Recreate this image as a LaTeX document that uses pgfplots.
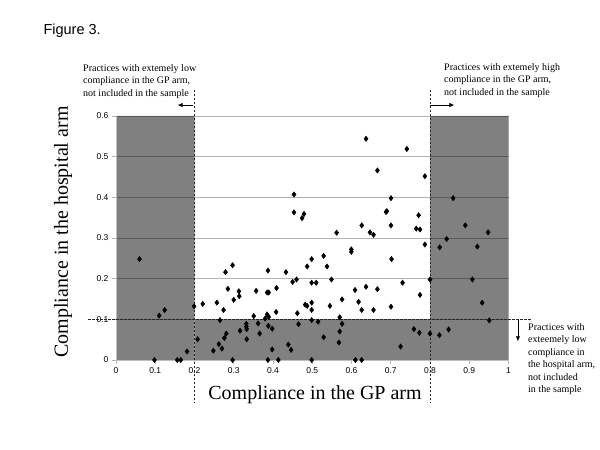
\documentclass[border=0pt]{standalone}
\usepackage{fontspec}
\setmainfont{Liberation Serif}
\setsansfont{Liberation Sans}
\usepackage{pgfplots}
\pgfplotsset{compat=1.18}
\usetikzlibrary{arrows.meta}
\definecolor{shade}{HTML}{808080}
\tikzset{
  cut/.style ={black!85,line width=0.6pt,dash pattern=on 2.5pt off 1.5pt},
  arr/.style ={-{Latex[length=5pt,width=4.5pt]},line width=0.8pt,black},
  note/.style={anchor=north west,inner sep=0pt,align=left,
               font=\fontsize{10}{12.5}\selectfont},
}
\begin{document}
\begin{tikzpicture}
\path (0,0) rectangle (600pt,450pt);

\begin{axis}[
  set layers, clip=false,
  scale only axis, width=392.5pt, height=244pt,
  at={(116pt,90pt)}, anchor=south west,
  xmin=0, xmax=1, ymin=0, ymax=0.6,
  xtick={0,0.1,0.2,0.3,0.4,0.5,0.6,0.7,0.8,0.9,1},
  ytick={0,0.1,0.2,0.3,0.4,0.5,0.6},
  axis x line*=bottom, axis y line*=left,
  axis line style={gray!50,line width=0.8pt},
  tick align=outside, major tick length=4pt,
  tick style={gray!60,line width=0.6pt},
  ymajorgrids, grid style={black,opacity=0.3,line width=0.8pt},
  ticklabel style={font=\sffamily\fontsize{8.5}{10}\selectfont},
  /pgf/number format/assume math mode=true,
]
% excluded practices (shaded)
\addplot[fill=shade,draw=none,on layer=axis background,forget plot]
  coordinates {(0,0) (0.2,0) (0.2,0.6) (0,0.6) (0,0)};
\addplot[fill=shade,draw=none,on layer=axis background,forget plot]
  coordinates {(0.8,0) (1,0) (1,0.6) (0.8,0.6) (0.8,0)};
\addplot[fill=shade,draw=none,on layer=axis background,forget plot]
  coordinates {(0.2,0) (0.8,0) (0.8,0.1) (0.2,0.1) (0.2,0)};

% cut-off lines and arrows
\draw[cut] (axis cs:0.2,0.664) -- (axis cs:0.2,-0.106);
\draw[cut] (axis cs:0.8,0.664) -- (axis cs:0.8,-0.106);
\draw[cut] (axis cs:-0.071,0.1) -- (axis cs:1.06,0.1);
\draw[arr] (axis cs:0.196,0.627) -- (axis cs:0.157,0.627);
\draw[arr] (axis cs:0.8,0.627) -- (axis cs:0.862,0.627);
\draw[arr] (axis cs:1.024,0.098) -- (axis cs:1.024,0.046);

\addplot[only marks,mark=diamond*,mark size=2.7pt,black] coordinates {
 (0.060,0.248) (0.110,0.109) (0.124,0.123) (0.098,0) (0.156,0) (0.165,0)
 (0.181,0.021) (0.199,0.132) (0.208,0.051) (0.221,0.138) (0.248,0.023)
 (0.257,0.141) (0.262,0.039) (0.265,0.098) (0.270,0.028) (0.274,0.123)
 (0.276,0.054) (0.279,0.216) (0.281,0.065) (0.285,0.175) (0.297,0.233)
 (0.297,0) (0.300,0.148) (0.313,0.169) (0.314,0.157) (0.316,0.072)
 (0.332,0.089) (0.332,0.082) (0.333,0.076) (0.333,0.051) (0.351,0.108)
 (0.357,0.170) (0.362,0.090) (0.366,0.065) (0.380,0.102) (0.385,0.112)
 (0.389,0.106) (0.385,0.166) (0.389,0.166) (0.387,0.220) (0.387,0)
 (0.388,0.084) (0.398,0.077) (0.398,0.026) (0.408,0.118) (0.409,0.177)
 (0.4135,0) (0.433,0.216) (0.439,0.038) (0.446,0.025) (0.450,0.192)
 (0.4535,0.407) (0.4535,0.363) (0.460,0.198) (0.462,0.115) (0.465,0.088)
 (0.474,0.349) (0.479,0.359) (0.482,0.136) (0.487,0.133) (0.487,0.230)
 (0.4985,0.248) (0.4985,0.190) (0.4985,0.141) (0.4985,0.123) (0.4985,0.098)
 (0.4985,0) (0.510,0.190) (0.515,0.094) (0.529,0.256) (0.529,0.056)
 (0.5376,0.230) (0.545,0.133) (0.549,0.198) (0.562,0.313) (0.568,0.043)
 (0.570,0.070) (0.570,0.105) (0.576,0.089) (0.576,0.149) (0.5996,0.272)
 (0.5996,0.266) (0.609,0.172) (0.610,0) (0.618,0.143) (0.626,0.123)
 (0.626,0.331) (0.626,0) (0.637,0.544) (0.637,0.180) (0.647,0.314)
 (0.656,0.308) (0.656,0.123) (0.666,0.466) (0.666,0.174) (0.688,0.364)
 (0.690,0.366) (0.7006,0.398) (0.7006,0.331) (0.702,0.248) (0.7006,0.131)
 (0.725,0.033) (0.730,0.190) (0.741,0.519) (0.759,0.076) (0.765,0.323)
 (0.7745,0.321) (0.771,0.356) (0.7745,0.160) (0.773,0.067) (0.787,0.452)
 (0.787,0.284) (0.800,0.198) (0.800,0.065) (0.824,0.061) (0.8247,0.277)
 (0.8425,0.2975) (0.8475,0.075) (0.859,0.398) (0.890,0.331) (0.908,0.198)
 (0.9206,0.279) (0.933,0.141) (0.948,0.314) (0.951,0.0975)
};
\end{axis}

\node[font=\sffamily\fontsize{14.5}{16}\selectfont,anchor=west] at (40pt,419pt) {Figure 3.};
\node[font=\fontsize{20}{22}\selectfont] at (315pt,55pt) {Compliance in the GP arm};
\node[font=\fontsize{20}{22}\selectfont,rotate=90] at (63pt,218pt) {Compliance in the hospital arm};

\node[note] at (83pt,386pt) {Practices with extemely low\\compliance in the GP arm,\\not included in the sample};
\node[note] at (444pt,387pt) {Practices with extemely high\\compliance in the GP arm,\\not included in the sample};
\node[note] at (528pt,127pt) {Practices with\\exteemely low\\compliance in\\the hospital arm,\\not included\\in the sample};
\end{tikzpicture}
\end{document}
